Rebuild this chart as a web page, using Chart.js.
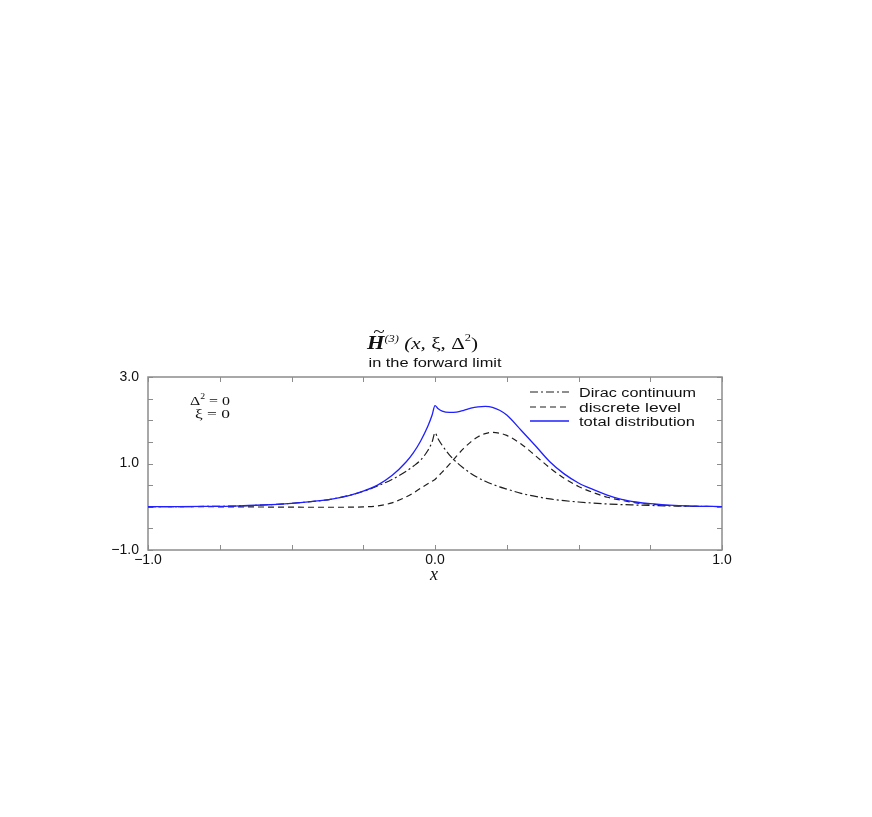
<!DOCTYPE html>
<html>
<head>
<meta charset="utf-8">
<script src="https://cdn.jsdelivr.net/npm/chart.js@4.4.0/dist/chart.umd.min.js"></script>
<style>
  html, body { margin: 0; padding: 0; background: #fff; }
</style>
</head>
<body>
<canvas id="chart" width="872" height="817"></canvas>
<script>
// x grid (momentum fraction)
const xValues = [-1, -0.9, -0.8, -0.7, -0.6, -0.5, -0.4, -0.35, -0.3, -0.25, -0.2, -0.15, -0.1, -0.075, -0.05, -0.025, -0.01,
  0, 0.01, 0.025, 0.05, 0.075, 0.1, 0.125, 0.15, 0.175, 0.2, 0.225, 0.25, 0.3, 0.35, 0.4, 0.45, 0.5, 0.55, 0.6, 0.65, 0.7, 0.75, 0.8, 0.9, 1.0];

// Dirac continuum (dash-dot)
const diracContinuum = [0, 0.003, 0.008, 0.016, 0.04, 0.08, 0.14, 0.19, 0.26, 0.355, 0.48, 0.63, 0.82, 0.94, 1.08, 1.30, 1.50,
  1.71, 1.58, 1.42, 1.20, 1.03, 0.89, 0.77, 0.67, 0.59, 0.52, 0.46, 0.41, 0.31, 0.24, 0.18, 0.14, 0.11, 0.085, 0.065, 0.05, 0.04, 0.03, 0.022, 0.01, 0.005];

// discrete level (dashed)
const discreteLevel = [0, 0, 0, -0.003, -0.006, -0.01, -0.012, -0.012, -0.01, -0.003, 0.02, 0.09, 0.23, 0.32, 0.43, 0.53, 0.59,
  0.63, 0.70, 0.80, 0.98, 1.17, 1.35, 1.50, 1.62, 1.69, 1.72, 1.70, 1.65, 1.45, 1.18, 0.90, 0.66, 0.47, 0.33, 0.22, 0.15, 0.09, 0.06, 0.035, 0.012, 0.003];

// total distribution (solid blue)
const totalDistribution = [0, 0.003, 0.008, 0.016, 0.04, 0.08, 0.14, 0.19, 0.26, 0.36, 0.50, 0.72, 1.04, 1.25, 1.52, 1.86, 2.12,
  2.34, 2.27, 2.21, 2.18, 2.19, 2.23, 2.28, 2.31, 2.32, 2.30, 2.23, 2.12, 1.77, 1.41, 1.04, 0.76, 0.55, 0.40, 0.27, 0.17, 0.11, 0.07, 0.045, 0.015, 0.005];

const xLabeled = [-1, 0, 1];
const yLabeled = [-1, 1, 3];
const seriesNames = ['Dirac continuum', 'discrete level', 'total distribution'];

function fmt(v) {
    return (v < 0 ? '\u2212' : '') + Math.abs(v).toFixed(1);
}

function toPoints(ys) {
    return xValues.map((x, i) => ({x: x, y: ys[i]}));
}

// 文字横向拉伸绘制（原图字体被横向拉宽）
function drawStretched(ctx, pieces, x, y, targetWidth, align) {
    let total = 0;
    pieces.forEach(p => {
        ctx.font = p.font;
        p.w = ctx.measureText(p.text).width;
        total += p.w;
    });
    const s = targetWidth / total;
    let x0 = x;
    if (align === 'center') x0 = x - targetWidth / 2;
    if (align === 'right') x0 = x - targetWidth;
    ctx.save();
    ctx.translate(x0, y);
    ctx.scale(s, 1);
    ctx.textBaseline = 'alphabetic';
    ctx.textAlign = 'left';
    let cx = 0;
    pieces.forEach(p => {
        ctx.font = p.font;
        ctx.fillText(p.text, cx, p.dy || 0);
        if (p.tilde) {
            ctx.font = '17px "Liberation Serif"';
            ctx.fillText('~', cx + p.w / 2 - 2, -12);
        }
        cx += p.w;
    });
    ctx.restore();
}

const paperFrame = {
    id: 'paperFrame',
    beforeDatasetsDraw(chart) {
        const ctx = chart.ctx;
        const a = chart.chartArea;
        const xs = chart.scales.x, ys = chart.scales.y;
        ctx.save();
        ctx.strokeStyle = '#8c8c8c';
        ctx.lineWidth = 1.5;
        ctx.strokeRect(a.left, a.top, a.right - a.left, a.bottom - a.top);
        ctx.lineWidth = 1;
        ctx.beginPath();
        xs.ticks.forEach(t => {
            const px = Math.round(xs.getPixelForValue(t.value)) + 0.5;
            ctx.moveTo(px, a.bottom); ctx.lineTo(px, a.bottom - 5);
            ctx.moveTo(px, a.top); ctx.lineTo(px, a.top + 5);
        });
        ys.ticks.forEach(t => {
            const py = Math.round(ys.getPixelForValue(t.value)) + 0.5;
            ctx.moveTo(a.left, py); ctx.lineTo(a.left + 5, py);
            ctx.moveTo(a.right, py); ctx.lineTo(a.right - 5, py);
        });
        ctx.stroke();
        ctx.restore();
    },
    afterDraw(chart) {
        const ctx = chart.ctx;
        const a = chart.chartArea;
        const cx = (a.left + a.right) / 2;
        ctx.save();
        ctx.fillStyle = '#111';

        // 标题
        drawStretched(ctx, [
            {text: 'H', font: 'italic bold 18px "Liberation Serif"', tilde: true},
            {text: '(3)', font: 'italic 10px "Liberation Serif"', dy: -7},
            {text: ' (x, ', font: 'italic 17px "Liberation Serif"'},
            {text: '\u03BE, \u0394', font: '17px "Liberation Serif"'},
            {text: '2', font: '10px "Liberation Serif"', dy: -8},
            {text: ')', font: '17px "Liberation Serif"'}
        ], 367, 349, 111, 'left');
        drawStretched(ctx, [{text: 'in the forward limit', font: '12px "Liberation Sans"'}], cx, 367, 133, 'center');

        // 参数标注
        drawStretched(ctx, [
            {text: '\u0394', font: '13px "Liberation Serif"'},
            {text: '2', font: '8px "Liberation Serif"', dy: -6},
            {text: ' = 0', font: '13px "Liberation Serif"'}
        ], 230, 405, 40, 'right');
        drawStretched(ctx, [{text: '\u03BE = 0', font: '13px "Liberation Serif"'}], 230, 418, 35, 'right');

        // 图例
        const rows = [392, 407, 421];
        const widths = [117, 102, 116];
        chart.data.datasets.forEach((ds, i) => {
            ctx.save();
            ctx.strokeStyle = ds.borderColor;
            ctx.lineWidth = ds.borderWidth;
            ctx.setLineDash(ds.borderDash || []);
            ctx.beginPath();
            ctx.moveTo(530, rows[i]);
            ctx.lineTo(569, rows[i]);
            ctx.stroke();
            ctx.restore();
            drawStretched(ctx, [{text: ds.label, font: '12px "Liberation Sans"'}], 579, rows[i] + 4.5, widths[i], 'left');
        });

        // x 轴标题
        ctx.font = 'italic 18px "Liberation Serif"';
        ctx.textAlign = 'center';
        ctx.fillText('x', cx - 1, 580);
        ctx.restore();
    }
};

const ctx = document.getElementById('chart').getContext('2d');
const chart = new Chart(ctx, {
    type: 'line',
    data: {
        datasets: [{
            label: seriesNames[0],
            data: toPoints(diracContinuum),
            borderColor: '#1e1e1e',
            borderWidth: 1.2,
            borderDash: [8, 3, 2, 3],
            order: 1
        }, {
            label: seriesNames[1],
            data: toPoints(discreteLevel),
            borderColor: '#1e1e1e',
            borderWidth: 1.2,
            borderDash: [6, 4],
            order: 2
        }, {
            label: seriesNames[2],
            data: toPoints(totalDistribution),
            borderColor: '#1f1fff',
            borderWidth: 1.3,
            order: 0
        }]
    },
    options: {
        responsive: false,
        devicePixelRatio: 1,
        animation: false,
        layout: {padding: {left: 98, right: 150, top: 377, bottom: 217}},
        elements: {point: {radius: 0}, line: {cubicInterpolationMode: 'monotone', fill: false}},
        plugins: {legend: {display: false}, tooltip: {enabled: false}, title: {display: false}},
        scales: {
            x: {
                type: 'linear', min: -1, max: 1,
                grid: {display: false, drawTicks: false},
                border: {display: false},
                ticks: {
                    stepSize: 0.25, autoSkip: false, maxRotation: 0, padding: 2,
                    color: '#111', font: {family: 'Liberation Sans', size: 14},
                    callback: v => xLabeled.includes(v) ? fmt(v) : ''
                },
                afterFit: s => { s.height = 50; }
            },
            y: {
                min: -1, max: 3,
                grid: {display: false, drawTicks: false},
                border: {display: false},
                ticks: {
                    stepSize: 0.5, autoSkip: false, padding: 9,
                    color: '#111', font: {family: 'Liberation Sans', size: 14},
                    callback: v => yLabeled.includes(v) ? fmt(v) : ''
                },
                afterFit: s => { s.width = 50; }
            }
        }
    },
    plugins: [paperFrame]
});
</script>
</body>
</html>
